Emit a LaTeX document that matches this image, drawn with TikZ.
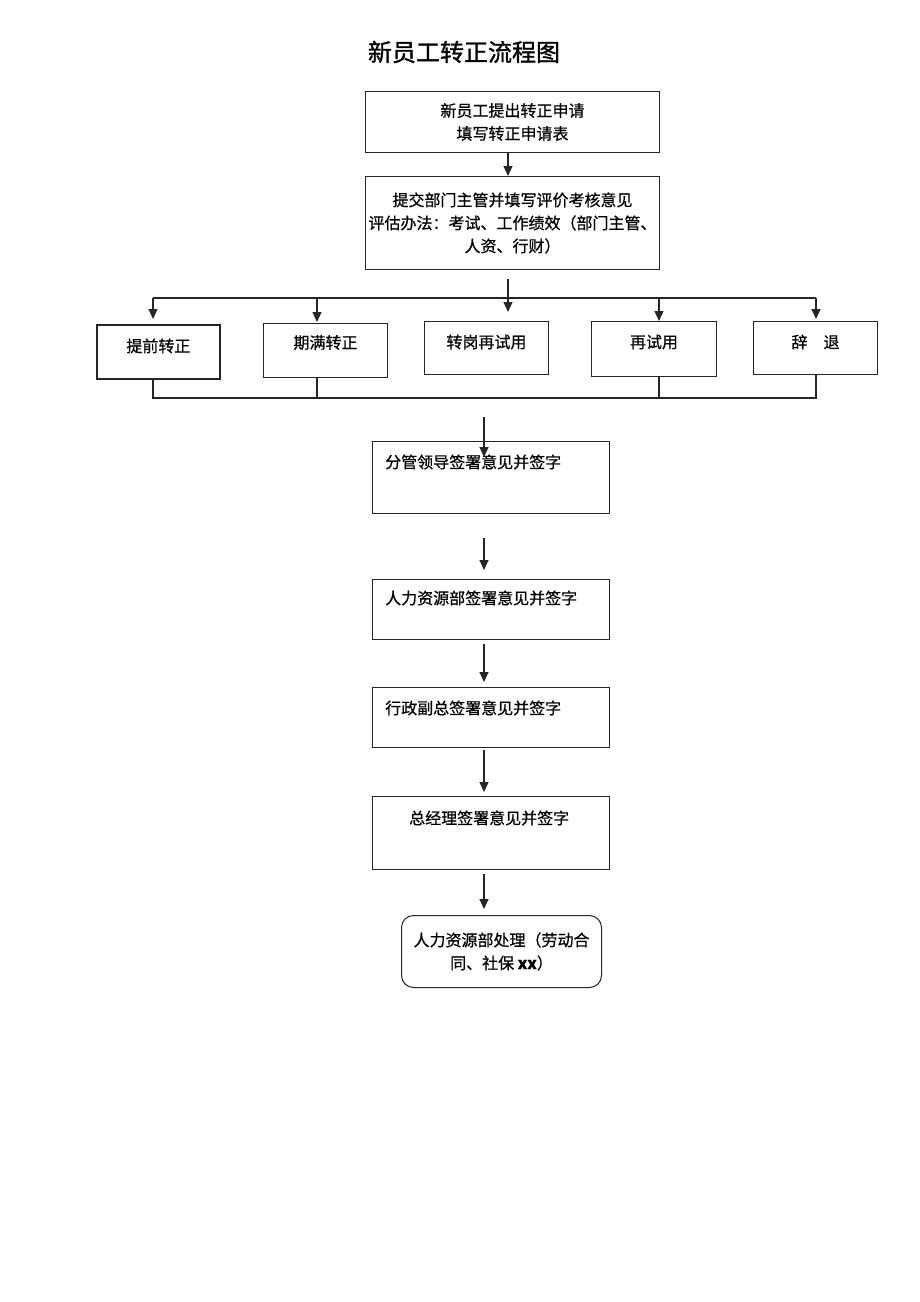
\documentclass[tikz,border=0pt]{standalone}
\usepackage{fontspec}
\setmainfont{Noto Sans CJK SC}[FakeBold=0.6]
\newfontfamily\titlefont{Noto Sans CJK SC}[FakeBold=1.2]
\usetikzlibrary{arrows.meta,calc}
\begin{document}
\begin{tikzpicture}[x=1pt,y=-1pt,
  box/.style={draw=black!85, line width=1pt, inner sep=0pt, anchor=north west},
  txt/.style={font=\fontsize{16}{23}\selectfont, inner sep=0pt},
  ln/.style={draw=black!85, line width=1.2pt},
  arr/.style={ln, -{Triangle[length=10pt,width=9pt]}}]
\useasboundingbox (0,0) rectangle (920,1302);
\fill[white] (0,0) rectangle (920,1302);

\node[font=\titlefont\fontsize{24}{28}\selectfont, inner sep=0pt] (title) at (464,52) {新员工转正流程图};

\node[box, txt, align=center, minimum width=294, minimum height=61] (b1) at (365,91) {新员工提出转正申请\\填写转正申请表};
\node[box, txt, align=center, minimum width=294, minimum height=93] (b2) at (365,176) {提交部门主管并填写评价考核意见\\评估办法：考试、工作绩效（部门主管、\\人资、行财）};

\node[box, line width=1.8pt, minimum width=123, minimum height=54] (r1) at (96,324) {};
\node[box, minimum width=124, minimum height=54] (r2) at (263,323) {};
\node[box, minimum width=124, minimum height=53] (r3) at (424,321) {};
\node[box, minimum width=125, minimum height=55] (r4) at (591,321) {};
\node[box, minimum width=124, minimum height=53] (r5) at (753,321) {};
\node[txt] (l1) at ([yshift=6]r1.center) {提前转正};
\node[txt] (l2) at ([yshift=8]r2.center) {期满转正};
\node[txt] (l3) at ([yshift=6]r3.center) {转岗再试用};
\node[txt] (l4) at ([yshift=7]r4.center) {再试用};
\node[txt] (l5) at ([yshift=6]r5.center) {辞\hspace{1em}退};

\node[box, minimum width=237, minimum height=72] (c1) at (372,441) {};
\node[box, minimum width=237, minimum height=60] (c2) at (372,579) {};
\node[box, minimum width=237, minimum height=60] (c3) at (372,687) {};
\node[box, minimum width=237, minimum height=73] (c4) at (372,796) {};
\node[box, rounded corners=12pt, minimum width=200, minimum height=72] (c5) at (401,915) {};
\node[txt, anchor=west] (t1) at ([xshift=13,yshift=-21]c1.north west) {分管领导签署意见并签字};
\node[txt, anchor=west] (t2) at ([xshift=13,yshift=-19]c2.north west) {人力资源部签署意见并签字};
\node[txt, anchor=west] (t3) at ([xshift=13,yshift=-21]c3.north west) {行政副总签署意见并签字};
\node[txt, anchor=west] (t4) at ([xshift=37,yshift=-22]c4.north west) {总经理签署意见并签字};
\node[txt, align=center] (t5) at (c5.center) {人力资源部处理（劳动合\\同、社保 \textbf{xx}）};

% connectors
\coordinate (a1) at (508,0);
\draw[arr] (b1.south -| a1) -- (b2.north -| a1);

\coordinate (hl) at (153,298);
\coordinate (hr) at (816,298);
\coordinate (v2) at (317,298);
\coordinate (v4) at (659,298);
\coordinate (tp) at (508,279);
\draw[ln] (hl) -- (hr);
\draw[arr] (tp) -- ([yshift=9]r3.north -| tp);
\draw[arr] (hl) -- ([yshift=5]r1.north -| hl);
\draw[arr] (v2) -- ([yshift=1]r2.north -| v2);
\draw[arr] (v4) -- (r4.north -| v4);
\draw[arr] (hr) -- ([yshift=2]r5.north -| hr);

\coordinate (bl) at (153,398);
\coordinate (br) at (816,398);
\draw[ln] (r1.south -| bl) -- (bl) -- (br) -- (r5.south -| br);
\draw[ln] (r2.south -| v2) -- (v2 |- bl);
\draw[ln] (r4.south -| v4) -- (v4 |- bl);

\coordinate (ax) at (484,417);
\draw[arr] (ax) -- ([yshift=-16]c1.north -| ax);
\draw[arr] ([yshift=-24]c1.south -| ax) -- ([yshift=9]c2.north -| ax);
\draw[arr] ([yshift=-4]c2.south -| ax) -- ([yshift=5]c3.north -| ax);
\draw[arr] ([yshift=-2]c3.south -| ax) -- ([yshift=4]c4.north -| ax);
\draw[arr] ([yshift=-4]c4.south -| ax) -- ([yshift=6]c5.north -| ax);
\end{tikzpicture}
\end{document}
